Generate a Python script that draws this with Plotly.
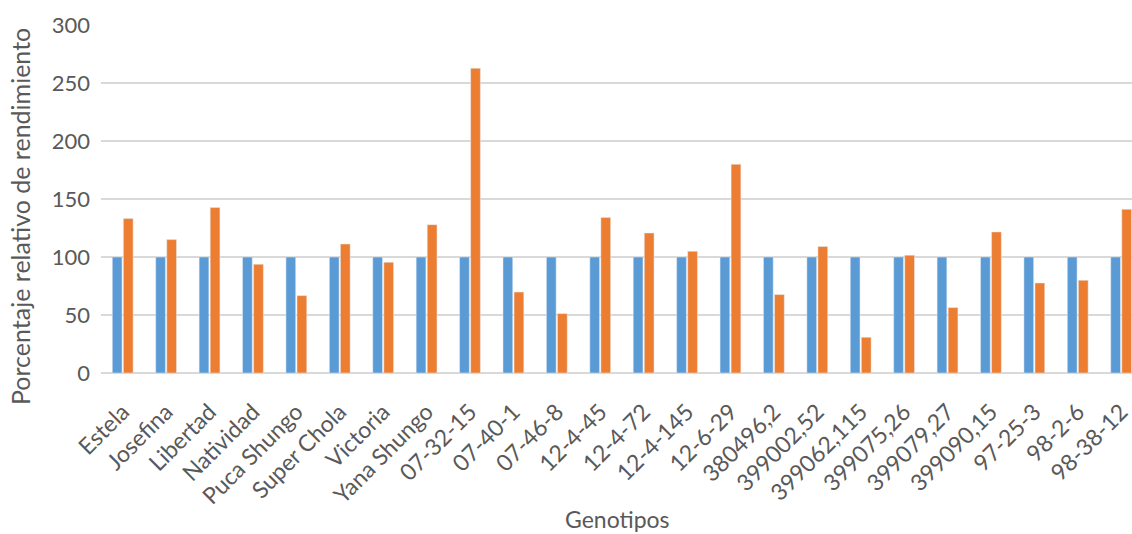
import plotly.graph_objects as go

categorias = ["Estela", "Josefina", "Libertad", "Natividad", "Puca Shungo", "Super Chola",
              "Victoria", "Yana Shungo", "07-32-15", "07-40-1", "07-46-8", "12-4-45",
              "12-4-72", "12-4-145", "12-6-29", "380496,2", "399002,52", "399062,115",
              "399075,26", "399079,27", "399090,15", "97-25-3", "98-2-6", "98-38-12"]
serie_azul = [100] * 24
serie_naranja = [133.1, 115.0, 142.6, 93.7, 66.7, 111.2, 95.4, 127.9, 262.7, 69.8, 51.2, 134.0,
                 120.7, 104.9, 179.9, 67.6, 109.0, 30.8, 101.5, 56.4, 121.6, 77.6, 79.9, 141.1]
y_ticks = [0, 50, 100, 150, 200, 250, 300]

FONT = "Lato"
GRAY = "#595959"
L, R, T, B = 101, 0, 25, 161
PW, PH = 1132 - L - R, 534 - T - B

fig = go.Figure()
fig.add_trace(go.Bar(x=categorias, y=serie_azul, marker_color="#5B9BD5", name="Testigo"))
fig.add_trace(go.Bar(x=categorias, y=serie_naranja, marker_color="#ED7D31", name="Genotipo"))

fig.update_layout(
    width=1132, height=534,
    margin=dict(l=L, r=R, t=T, b=B, autoexpand=False),
    paper_bgcolor="white", plot_bgcolor="white",
    barmode="group", bargap=0.49, bargroupgap=0.12,
    showlegend=False,
    font=dict(family=FONT, color=GRAY, size=20),
)
fig.update_xaxes(
    type="category", range=[-0.5, 23.25], automargin=False,
    tickangle=-45, tickfont=dict(size=23, color=GRAY, family=FONT),
    showgrid=False, showline=False, ticks="", ticklabelstandoff=20,
)
fig.update_yaxes(
    range=[0, 300], tickvals=y_ticks, automargin=False,
    tickfont=dict(size=22, color=GRAY, family=FONT),
    showgrid=True, gridcolor="#D9D9D9", gridwidth=1.5,
    zeroline=True, zerolinecolor="#D9D9D9", zerolinewidth=1.5,
    ticks="", ticklabelstandoff=10,
)
fig.add_annotation(
    text="Porcentaje relativo de rendimiento", textangle=-90,
    xref="paper", yref="paper", x=(20 - L) / PW, y=(534 - B - 217) / PH,
    xanchor="center", yanchor="middle", showarrow=False,
    font=dict(size=25, color=GRAY, family=FONT),
)
fig.add_annotation(
    text="Genotipos",
    xref="paper", yref="paper", x=(617 - L) / PW, y=(534 - B - 519) / PH,
    xanchor="center", yanchor="middle", showarrow=False,
    font=dict(size=23, color=GRAY, family=FONT),
)

fig.write_html(
    "out.html",
    config={"displayModeBar": False},
    post_script="document.body.style.margin='0';document.body.style.overflow='hidden';",
)
